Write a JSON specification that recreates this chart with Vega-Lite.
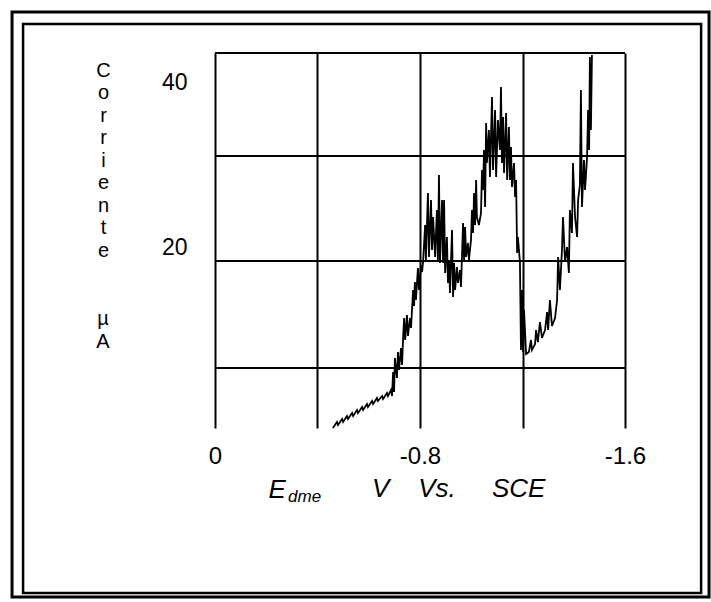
{
  "$schema": "https://vega.github.io/schema/vega-lite/v6.json",
  "width": 410,
  "height": 375,
  "autosize": {"type": "none"},
  "padding": {"left": 215, "top": 53, "right": 86, "bottom": 174},
  "background": "white",
  "config": {"view": {"stroke": null}, "font": "Liberation Sans"},
  "datasets": {
    "hgrid": [{"I": 43.5}, {"I": 31.08}, {"I": 18.43}, {"I": 5.53}],
    "curve": [
      {"E": -0.460, "I": -1.70}, {"E": -0.476, "I": -0.98}, {"E": -0.480, "I": -1.34}, {"E": -0.496, "I": -0.62},
      {"E": -0.500, "I": -0.98}, {"E": -0.515, "I": -0.26}, {"E": -0.519, "I": -0.62}, {"E": -0.535, "I": 0.10},
      {"E": -0.539, "I": -0.26}, {"E": -0.554, "I": 0.47}, {"E": -0.558, "I": 0.10}, {"E": -0.574, "I": 0.83},
      {"E": -0.578, "I": 0.47}, {"E": -0.593, "I": 1.19}, {"E": -0.597, "I": 0.83}, {"E": -0.613, "I": 1.55},
      {"E": -0.617, "I": 1.19}, {"E": -0.632, "I": 1.91}, {"E": -0.636, "I": 1.55}, {"E": -0.652, "I": 2.16},
      {"E": -0.656, "I": 1.79}, {"E": -0.671, "I": 2.52}, {"E": -0.675, "I": 2.16}, {"E": -0.687, "I": 2.88},
      {"E": -0.691, "I": 2.16}, {"E": -0.695, "I": 5.05}, {"E": -0.699, "I": 2.64}, {"E": -0.702, "I": 6.74},
      {"E": -0.710, "I": 4.33}, {"E": -0.714, "I": 7.46}, {"E": -0.718, "I": 5.29}, {"E": -0.726, "I": 7.94},
      {"E": -0.730, "I": 5.89}, {"E": -0.734, "I": 9.15}, {"E": -0.738, "I": 11.56}, {"E": -0.742, "I": 8.91},
      {"E": -0.749, "I": 11.92}, {"E": -0.753, "I": 9.39}, {"E": -0.761, "I": 11.56}, {"E": -0.765, "I": 10.35},
      {"E": -0.773, "I": 14.93}, {"E": -0.777, "I": 13.00}, {"E": -0.780, "I": 15.90}, {"E": -0.784, "I": 13.73},
      {"E": -0.792, "I": 17.58}, {"E": -0.796, "I": 14.93}, {"E": -0.804, "I": 17.95}, {"E": -0.808, "I": 17.10},
      {"E": -0.812, "I": 18.31}, {"E": -0.820, "I": 22.77}, {"E": -0.823, "I": 18.55}, {"E": -0.831, "I": 26.63},
      {"E": -0.835, "I": 18.91}, {"E": -0.843, "I": 25.78}, {"E": -0.847, "I": 19.75}, {"E": -0.851, "I": 23.73},
      {"E": -0.859, "I": 18.91}, {"E": -0.866, "I": 24.58}, {"E": -0.870, "I": 18.55}, {"E": -0.874, "I": 28.79},
      {"E": -0.878, "I": 18.19}, {"E": -0.886, "I": 25.78}, {"E": -0.890, "I": 18.19}, {"E": -0.894, "I": 25.78},
      {"E": -0.898, "I": 16.98}, {"E": -0.905, "I": 21.32}, {"E": -0.909, "I": 15.78}, {"E": -0.913, "I": 18.55},
      {"E": -0.917, "I": 14.57}, {"E": -0.925, "I": 22.16}, {"E": -0.929, "I": 14.09}, {"E": -0.933, "I": 18.19},
      {"E": -0.937, "I": 14.93}, {"E": -0.944, "I": 17.70}, {"E": -0.948, "I": 15.78}, {"E": -0.956, "I": 17.34},
      {"E": -0.960, "I": 15.29}, {"E": -0.968, "I": 23.01}, {"E": -0.972, "I": 18.55}, {"E": -0.976, "I": 22.53},
      {"E": -0.980, "I": 18.91}, {"E": -0.987, "I": 20.60}, {"E": -0.991, "I": 18.55}, {"E": -0.999, "I": 20.96},
      {"E": -1.003, "I": 24.58}, {"E": -1.007, "I": 21.80}, {"E": -1.011, "I": 26.63}, {"E": -1.015, "I": 22.77},
      {"E": -1.019, "I": 28.19}, {"E": -1.022, "I": 23.73}, {"E": -1.030, "I": 22.77}, {"E": -1.038, "I": 24.21},
      {"E": -1.042, "I": 29.40}, {"E": -1.046, "I": 26.99}, {"E": -1.050, "I": 31.81}, {"E": -1.054, "I": 24.94},
      {"E": -1.058, "I": 35.06}, {"E": -1.061, "I": 30.24}, {"E": -1.069, "I": 34.22}, {"E": -1.073, "I": 28.55},
      {"E": -1.081, "I": 38.20}, {"E": -1.085, "I": 29.40}, {"E": -1.093, "I": 36.63}, {"E": -1.097, "I": 28.55},
      {"E": -1.104, "I": 35.42}, {"E": -1.112, "I": 31.81}, {"E": -1.116, "I": 39.40}, {"E": -1.120, "I": 30.24},
      {"E": -1.124, "I": 35.79}, {"E": -1.128, "I": 29.04}, {"E": -1.136, "I": 36.27}, {"E": -1.140, "I": 28.19},
      {"E": -1.147, "I": 34.58}, {"E": -1.151, "I": 28.19}, {"E": -1.155, "I": 32.17}, {"E": -1.159, "I": 27.35},
      {"E": -1.167, "I": 30.24}, {"E": -1.171, "I": 26.14}, {"E": -1.175, "I": 28.19}, {"E": -1.179, "I": 19.39},
      {"E": -1.182, "I": 21.32}, {"E": -1.190, "I": 18.31}, {"E": -1.194, "I": 7.70}, {"E": -1.198, "I": 14.93},
      {"E": -1.202, "I": 7.46}, {"E": -1.206, "I": 12.52}, {"E": -1.214, "I": 7.22}, {"E": -1.225, "I": 7.46},
      {"E": -1.233, "I": 8.91}, {"E": -1.237, "I": 7.70}, {"E": -1.249, "I": 8.42}, {"E": -1.253, "I": 10.11},
      {"E": -1.260, "I": 8.66}, {"E": -1.268, "I": 11.07}, {"E": -1.276, "I": 9.15}, {"E": -1.288, "I": 10.11},
      {"E": -1.296, "I": 12.28}, {"E": -1.300, "I": 10.11}, {"E": -1.307, "I": 13.73}, {"E": -1.315, "I": 10.59},
      {"E": -1.327, "I": 11.56}, {"E": -1.335, "I": 13.73}, {"E": -1.339, "I": 18.91}, {"E": -1.346, "I": 14.93},
      {"E": -1.354, "I": 19.75}, {"E": -1.358, "I": 23.73}, {"E": -1.366, "I": 18.31}, {"E": -1.374, "I": 20.12},
      {"E": -1.381, "I": 16.98}, {"E": -1.385, "I": 24.58}, {"E": -1.393, "I": 21.80}, {"E": -1.397, "I": 30.24},
      {"E": -1.405, "I": 23.73}, {"E": -1.413, "I": 21.32}, {"E": -1.417, "I": 25.78}, {"E": -1.424, "I": 27.59},
      {"E": -1.428, "I": 39.04}, {"E": -1.432, "I": 24.94}, {"E": -1.440, "I": 30.60}, {"E": -1.444, "I": 26.99},
      {"E": -1.452, "I": 30.96}, {"E": -1.456, "I": 36.63}, {"E": -1.460, "I": 31.81}, {"E": -1.463, "I": 43.02},
      {"E": -1.467, "I": 34.22}, {"E": -1.471, "I": 43.26}
    ]
  },
  "layer": [
    {
      "data": {"name": "curve"},
      "mark": {"type": "line", "color": "black", "strokeWidth": 1.8},
      "encoding": {
        "x": {
          "field": "E",
          "type": "quantitative",
          "scale": {"domain": [-1.6, 0], "reverse": true, "nice": false, "zero": false},
          "axis": {
            "values": [0, -0.4, -0.8, -1.2, -1.6],
            "grid": true,
            "gridColor": "black",
            "gridWidth": 2,
            "gridOpacity": 1,
            "ticks": false,
            "tickSize": 0,
            "domain": false,
            "labelExpr": "datum.value == 0 ? '0' : (datum.value == -0.8 ? '-0.8' : (datum.value == -1.6 ? '-1.6' : ''))",
            "labelFont": "Liberation Sans",
            "labelFontSize": 24,
            "labelColor": "black",
            "labelPadding": 16,
            "labelFlush": false,
            "labelOverlap": false,
            "title": "E",
            "titleFont": "Liberation Sans",
            "titleFontSize": 26,
            "titleFontStyle": "italic",
            "titleFontWeight": "normal",
            "titleColor": "black",
            "titleAlign": "left",
            "titleAnchor": "start",
            "titleX": 53,
            "titleY": 69,
            "titleBaseline": "alphabetic"
          }
        },
        "y": {
          "field": "I",
          "type": "quantitative",
          "scale": {"domain": [-1.7, 43.5], "nice": false, "zero": false},
          "axis": {
            "values": [20, 40],
            "grid": false,
            "ticks": false,
            "tickSize": 0,
            "domain": false,
            "labelFont": "Liberation Sans",
            "labelFontSize": 23,
            "labelColor": "black",
            "labelPadding": 28,
            "title": ["C", "o", "r", "r", "i", "e", "n", "t", "e"],
            "titleFont": "Liberation Sans",
            "titleFontSize": 20,
            "titleFontWeight": "normal",
            "titleColor": "black",
            "titleAngle": 0,
            "titleAlign": "center",
            "titleBaseline": "top",
            "titleLineHeight": 22.5,
            "titleX": -112,
            "titleY": 7
          }
        },
        "order": {"value": null}
      }
    },
    {
      "data": {"values": [{}]},
      "mark": {"type": "rect", "fill": null, "fillOpacity": 0, "stroke": "black", "strokeWidth": 3},
      "encoding": {
        "x": {"datum": 0.792, "type": "quantitative"},
        "x2": {"datum": -1.928},
        "y": {"datum": 48.44, "type": "quantitative"},
        "y2": {"datum": -22.07}
      }
    },
    {
      "data": {"values": [{}]},
      "mark": {"type": "rect", "fill": null, "fillOpacity": 0, "stroke": "black", "strokeWidth": 2.5},
      "encoding": {
        "x": {"datum": 0.749, "type": "quantitative"},
        "x2": {"datum": -1.897},
        "y": {"datum": 47.0, "type": "quantitative"},
        "y2": {"datum": -21.59}
      }
    },
    {
      "data": {"name": "hgrid"},
      "mark": {"type": "rule", "color": "black", "strokeWidth": 2},
      "encoding": {
        "x": {"datum": 0, "type": "quantitative"},
        "x2": {"datum": -1.6},
        "y": {"field": "I", "type": "quantitative"}
      }
    },
    {
      "data": {"values": [{"unitlbl": "µ\nA"}]},
      "mark": {"type": "text", "font": "Liberation Sans", "fontSize": 20, "align": "center", "baseline": "top", "lineBreak": "\n", "lineHeight": 22.5, "color": "black"},
      "encoding": {
        "x": {"datum": 0.437, "type": "quantitative"},
        "y": {"datum": 12.6, "type": "quantitative"},
        "text": {"field": "unitlbl"}
      }
    },
    {
      "data": {"values": [{"sub": "dme"}]},
      "mark": {"type": "text", "font": "Liberation Sans", "fontSize": 17, "fontStyle": "italic", "align": "left", "baseline": "alphabetic", "color": "black"},
      "encoding": {
        "x": {"datum": -0.285, "type": "quantitative"},
        "y": {"datum": -10.6, "type": "quantitative"},
        "text": {"field": "sub"}
      }
    },
    {
      "data": {"values": [{"unit": "V\u00a0\u00a0\u00a0\u00a0Vs.\u00a0\u00a0\u00a0\u00a0\u00a0SCE"}]},
      "mark": {"type": "text", "font": "Liberation Sans", "fontSize": 26, "fontStyle": "italic", "align": "left", "baseline": "alphabetic", "color": "black"},
      "encoding": {
        "x": {"datum": -0.6127, "type": "quantitative"},
        "y": {"datum": -10.02, "type": "quantitative"},
        "text": {"field": "unit"}
      }
    }
  ]
}
